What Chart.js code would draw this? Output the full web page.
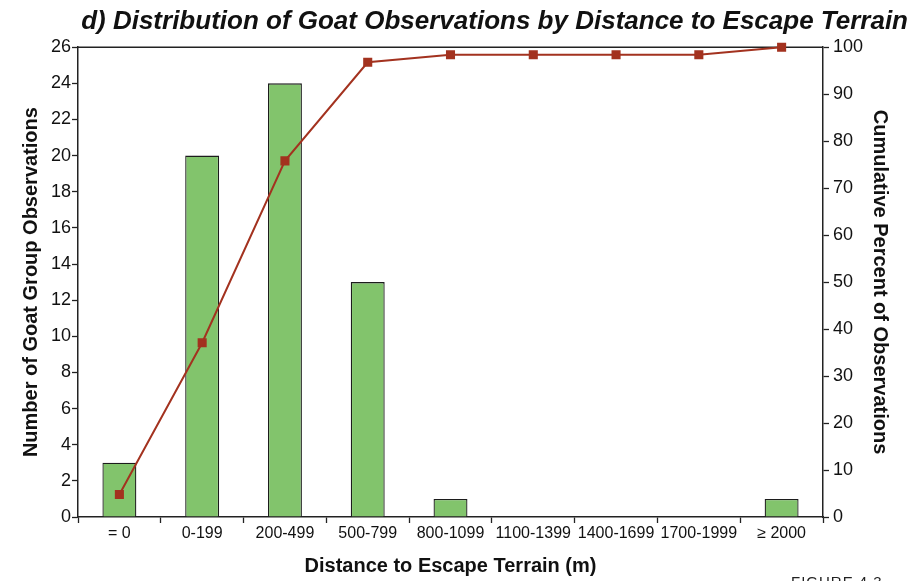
<!DOCTYPE html>
<html>
<head>
<meta charset="utf-8">
<script src="https://cdn.jsdelivr.net/npm/chart.js@4.4.1/dist/chart.umd.min.js"></script>
<style>
  html, body { margin: 0; padding: 0; background: #fff; }
  #wrap { position: relative; width: 915px; height: 581px; overflow: hidden; }
  #note { position: absolute; left: 791px; top: 573px; font: 15px "Liberation Sans", Arial, sans-serif; color: #222; letter-spacing: 1px; }
</style>
</head>
<body>
<div id="wrap">
  <canvas id="goatChart" width="915" height="581"></canvas>
  <div id="note">FIGURE 4.3</div>
</div>
<script>
/* ================= DATA ================= */
const distanceClasses = ["= 0", "0-199", "200-499", "500-799", "800-1099", "1100-1399", "1400-1699", "1700-1999", "\u2265 2000"];
const groupCounts = [3, 20, 24, 13, 1, 0, 0, 0, 1];
const cumulativePercent = [4.8, 37.1, 75.8, 96.8, 98.4, 98.4, 98.4, 98.4, 100];
const leftTicks = [0, 2, 4, 6, 8, 10, 12, 14, 16, 18, 20, 22, 24, 26];
const rightTicks = [0, 10, 20, 30, 40, 50, 60, 70, 80, 90, 100];

/* ================= STYLE ================= */
const SANS = '"Liberation Sans", Arial, sans-serif';
const INK = "#111";

/* top frame line of the plot box */
const topFrame = {
    id: "topFrame",
    beforeDatasetsDraw(chart) {
        const a = chart.chartArea;
        const ctx = chart.ctx;
        ctx.save();
        ctx.strokeStyle = "#222";
        ctx.lineWidth = 1.5;
        ctx.beginPath();
        ctx.moveTo(a.left, a.top);
        ctx.lineTo(a.right, a.top);
        ctx.stroke();
        ctx.restore();
    }
};

new Chart(document.getElementById("goatChart"), {
    data: {
        labels: distanceClasses,
        datasets: [
            {
                type: "line",
                label: "Cumulative percent",
                data: cumulativePercent,
                yAxisID: "y2",
                borderColor: "#a3321f",
                borderWidth: 2,
                pointStyle: "rect",
                pointRadius: 5,
                pointBackgroundColor: "#a3321f",
                pointBorderColor: "#a3321f",
                tension: 0,
                clip: false,
                order: 0
            },
            {
                type: "bar",
                label: "Goat group observations",
                data: groupCounts,
                yAxisID: "y",
                backgroundColor: "#82c46c",
                borderColor: "#1c1c1c",
                borderWidth: 1.3,
                barPercentage: 0.41,
                categoryPercentage: 1,
                order: 1
            }
        ]
    },
    options: {
        responsive: false,
        animation: false,
        layout: { padding: { left: 0, right: 7, top: 0, bottom: 0 } },
        plugins: {
            legend: { display: false },
            tooltip: { enabled: false },
            title: {
                display: true,
                text: "d) Distribution of Goat Observations by Distance to Escape Terrain",
                align: "end",
                color: INK,
                font: { family: SANS, size: 26, weight: "bold", style: "italic" },
                padding: { top: 6, bottom: 10 }
            }
        },
        scales: {
            x: {
                offset: true,
                grid: { offset: true, drawOnChartArea: false, tickLength: 6, color: "#222", tickWidth: 1.3 },
                border: { color: "#222", width: 1.5 },
                ticks: { color: INK, autoSkip: false, maxRotation: 0, padding: 1, font: { family: SANS, size: 16 } },
                title: { display: true, text: "Distance to Escape Terrain (m)", color: INK, font: { family: SANS, size: 20, weight: "bold" }, padding: { top: 0, bottom: 3 } },
                afterFit(s) { s.height = 64; }
            },
            y: {
                position: "left",
                min: 0,
                max: 26,
                afterBuildTicks(s) { s.ticks = leftTicks.map(v => ({ value: v })); },
                grid: { drawOnChartArea: false, tickLength: 6, color: "#222", tickWidth: 1.3 },
                border: { color: "#222", width: 1.5 },
                ticks: { color: INK, padding: 1, font: { family: SANS, size: 18 } },
                title: { display: true, text: "Number of Goat Group Observations", color: INK, font: { family: SANS, size: 20, weight: "bold" }, padding: { top: 19, bottom: 0 } },
                afterFit(s) { s.width = 78; }
            },
            y2: {
                position: "right",
                min: 0,
                max: 100,
                afterBuildTicks(s) { s.ticks = rightTicks.map(v => ({ value: v })); },
                grid: { drawOnChartArea: false, tickLength: 6, color: "#222", tickWidth: 1.3 },
                border: { color: "#222", width: 1.5 },
                ticks: { color: INK, padding: 4, font: { family: SANS, size: 18 } },
                title: { display: true, text: "Cumulative Percent of Observations", color: INK, font: { family: SANS, size: 20, weight: "bold" }, padding: { top: 16, bottom: 0 } },
                afterFit(s) { s.width = 85; }
            }
        }
    },
    plugins: [topFrame]
});
</script>
</body>
</html>
